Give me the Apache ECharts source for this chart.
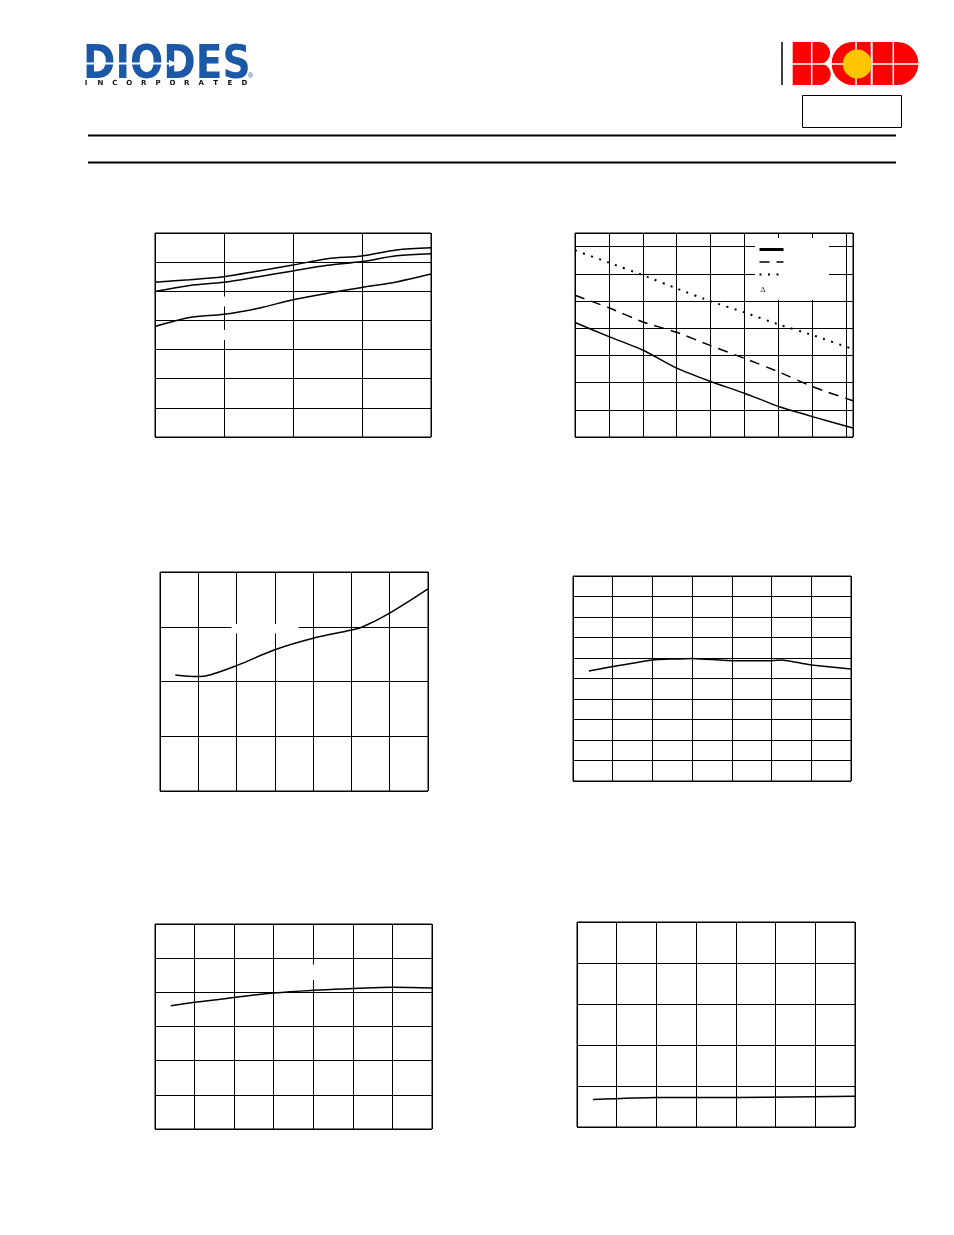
<!DOCTYPE html>
<html>
<head>
<meta charset="utf-8">
<style>
html,body{margin:0;padding:0;background:#fff;}
#main{width:954px;height:1235px;}
</style>
<script src="https://cdn.jsdelivr.net/npm/echarts@6/dist/echarts.min.js"></script>
</head>
<body>
<div id="main"></div>
<script>
// ---- data ----
const c1X = [-40, -20, 0, 20, 40, 60, 80, 100, 120];
const c1Top = [5.31, 5.40, 5.50, 5.70, 5.90, 6.12, 6.21, 6.42, 6.49];
const c1Mid = [4.99, 5.20, 5.31, 5.50, 5.70, 5.89, 6.02, 6.22, 6.29];
const c1Bot = [3.79, 4.10, 4.21, 4.42, 4.71, 4.93, 5.13, 5.32, 5.59];

const c2X = [0, 1, 2, 3, 4, 5, 6, 7, 8.2];
const c2Solid = [4.21, 3.69, 3.20, 2.53, 2.04, 1.61, 1.12, 0.75, 0.33];
const c2Dashed = [5.21, 4.75, 4.23, 3.85, 3.36, 2.89, 2.40, 1.85, 1.33];
const c2Dotted = [6.86, 6.41, 5.95, 5.46, 4.99, 4.58, 4.14, 3.75, 3.23];

const c3X = [0.4, 1, 1.3, 2, 3, 4, 5, 5.3, 6, 7];
const c3Y = [2.12, 2.09, 2.12, 2.29, 2.58, 2.79, 2.94, 3.00, 3.25, 3.69];

const c4X = [0.4, 1, 2, 3, 4, 5, 5.25, 6, 7];
const c4Y = [5.37, 5.58, 5.90, 5.98, 5.87, 5.87, 5.90, 5.66, 5.46];

const c5X = [0.4, 1, 2, 3, 4, 5, 6, 7];
const c5Y = [3.61, 3.71, 3.85, 3.98, 4.06, 4.11, 4.15, 4.13];

const c6X = [0.4, 2, 4, 7];
const c6Y = [0.67, 0.72, 0.72, 0.75];

const legendNames = ['S', 'D', 'P'];

// ---- helpers ----
function zip(xs, ys) { return xs.map((x, i) => [x, ys[i]]); }

const grids = [
  {left: 155, top: 233, width: 276, height: 204},
  {left: 575, top: 233, width: 278, height: 204},
  {left: 160, top: 572, width: 268, height: 219},
  {left: 573, top: 576, width: 278, height: 205},
  {left: 155, top: 924, width: 277, height: 205},
  {left: 577, top: 922, width: 278, height: 205}
].map(g => Object.assign({show: true, borderColor: '#000', borderWidth: 1, backgroundColor: '#fff'}, g));

const xRanges = [[-40, 120, 40], [0, 8.2, 1], [0, 7, 1], [0, 7, 1], [0, 7, 1], [0, 7, 1]];
const yRanges = [[0, 7, 1], [0, 7.5, 1], [0, 4, 1], [0, 10, 1], [0, 6, 1], [0, 5, 1]];

function axis(r, idx) {
  return {
    type: 'value', gridIndex: idx, min: r[0], max: r[1], interval: r[2],
    axisLine: {show: false}, axisTick: {show: false}, axisLabel: {show: false},
    splitLine: {show: true, lineStyle: {color: '#000', width: 1}}
  };
}

function line(idx, data, extra) {
  return Object.assign({
    type: 'line', xAxisIndex: idx, yAxisIndex: idx, data: data,
    symbol: 'none', smooth: 0.3, silent: true,
    itemStyle: {color: '#000'},
    lineStyle: {color: '#000', width: 1.5}
  }, extra || {});
}

const series = [
  line(0, zip(c1X, c1Top)),
  line(0, zip(c1X, c1Mid)),
  line(0, zip(c1X, c1Bot)),
  line(1, zip(c2X, c2Solid), {name: legendNames[0], smooth: 0.15, lineStyle: {color: '#000', width: 1.5, type: 'solid'}}),
  line(1, zip(c2X, c2Dashed), {name: legendNames[1], smooth: 0.15, lineStyle: {color: '#000', width: 1.5, type: [10, 7]}}),
  line(1, zip(c2X, c2Dotted), {name: legendNames[2], smooth: 0.15, lineStyle: {color: '#000', width: 2, type: [2, 6.5]}}),
  line(2, zip(c3X, c3Y), {smooth: 0.4}),
  line(3, zip(c4X, c4Y), {smooth: 0.1}),
  line(4, zip(c5X, c5Y), {smooth: 0.4}),
  line(5, zip(c6X, c6Y), {smooth: 0.2})
];

// ---- decoration (logos, header) ----
const blue = '#1d58a6';
const red = '#ff0000';
const graphics = [];
// header rules
graphics.push({type: 'line', shape: {x1: 88, y1: 135.5, x2: 896, y2: 135.5}, style: {stroke: '#000', lineWidth: 2}});
graphics.push({type: 'line', shape: {x1: 88, y1: 162.5, x2: 896, y2: 162.5}, style: {stroke: '#000', lineWidth: 2}});
// DIODES logo
graphics.push({type: 'text', x: 83, y: 43.5, scaleX: 0.85, style: {text: 'DIODES', font: 'bold 46px "DejaVu Sans", sans-serif', fill: blue, textVerticalAlign: 'top'}});
graphics.push({type: 'line', shape: {x1: 83, y1: 63.5, x2: 172, y2: 63.5}, style: {stroke: '#fff', lineWidth: 2}});
graphics.push({type: 'polygon', shape: {points: [[169, 60], [178, 63.5], [169, 67]]}, style: {fill: '#fff'}});
graphics.push({type: 'text', x: 248, y: 73, style: {text: '®', font: '7px "Liberation Sans", Arial', fill: blue}});
'INCORPORATED'.split('').forEach((ch, i) => {
  graphics.push({type: 'text', x: 86 + i * 14.4, y: 83.5, style: {text: ch, font: 'bold 7px "DejaVu Sans", sans-serif', fill: '#111', textAlign: 'center', textVerticalAlign: 'middle'}});
});
// BCD logo
graphics.push({type: 'line', shape: {x1: 782, y1: 42, x2: 782, y2: 85}, style: {stroke: '#000', lineWidth: 1.5}});
graphics.push({type: 'rect', shape: {x: 792.7, y: 42, width: 37.3, height: 22, r: [0, 11, 11, 0]}, style: {fill: red}});
graphics.push({type: 'rect', shape: {x: 792.7, y: 63.5, width: 38, height: 21.5, r: [0, 11, 11, 0]}, style: {fill: red}});
graphics.push({type: 'rect', shape: {x: 831.7, y: 42, width: 39, height: 43, r: [21, 0, 0, 21]}, style: {fill: red}});
graphics.push({type: 'rect', shape: {x: 872.7, y: 42, width: 45.6, height: 43, r: [0, 21, 21, 0]}, style: {fill: red}});
graphics.push({type: 'line', shape: {x1: 792, y1: 64, x2: 919, y2: 64}, style: {stroke: '#fff', lineWidth: 1.5}});
[811.7, 856, 893.3].forEach(x => graphics.push({type: 'line', shape: {x1: x, y1: 42, x2: x, y2: 85}, style: {stroke: '#fff', lineWidth: 1.5}}));
graphics.push({type: 'circle', shape: {cx: 857.3, cy: 64, r: 14.5}, style: {fill: '#ffc600'}});
graphics.push({type: 'rect', shape: {x: 802.5, y: 95.5, width: 99, height: 32}, style: {fill: 'none', stroke: '#000', lineWidth: 1}});
// label knock-outs in grids
graphics.push({type: 'rect', z: 3, shape: {x: 755, y: 238, width: 74, height: 62}, style: {fill: '#fff'}});
graphics.push({type: 'text', z: 5, x: 760, y: 290, style: {text: 'Δ', font: '8px "DejaVu Serif", serif', fill: '#333', textVerticalAlign: 'middle'}});
graphics.push({type: 'rect', z: 3, shape: {x: 221, y: 296.5, width: 5, height: 10}, style: {fill: '#fff'}});
graphics.push({type: 'rect', z: 3, shape: {x: 221, y: 330, width: 5, height: 10}, style: {fill: '#fff'}});
graphics.push({type: 'rect', z: 3, shape: {x: 231.5, y: 624, width: 67, height: 9.5}, style: {fill: '#fff'}});
graphics.push({type: 'rect', z: 3, shape: {x: 312, y: 964.5, width: 5, height: 15.5}, style: {fill: '#fff'}});

const chart = echarts.init(document.getElementById('main'), null, {renderer: 'canvas'});
chart.setOption({
  animation: false,
  backgroundColor: '#fff',
  grid: grids,
  xAxis: xRanges.map((r, i) => axis(r, i)),
  yAxis: yRanges.map((r, i) => axis(r, i)),
  legend: {
    data: [
      {name: legendNames[0], itemStyle: {opacity: 0}, lineStyle: {width: 3}},
      {name: legendNames[1], itemStyle: {opacity: 0}, lineStyle: {width: 1.5}},
      {name: legendNames[2], itemStyle: {opacity: 0}, lineStyle: {width: 2}}
    ],
    orient: 'vertical', left: 758, top: 244.5,
    itemWidth: 24, itemHeight: 10, itemGap: 3.5, padding: 0, z: 6,
    itemStyle: {opacity: 0},
    formatter: function () { return ''; }, selectedMode: false,
    textStyle: {fontSize: 1}
  },
  graphic: {elements: graphics},
  series: series
});
</script>
</body>
</html>
